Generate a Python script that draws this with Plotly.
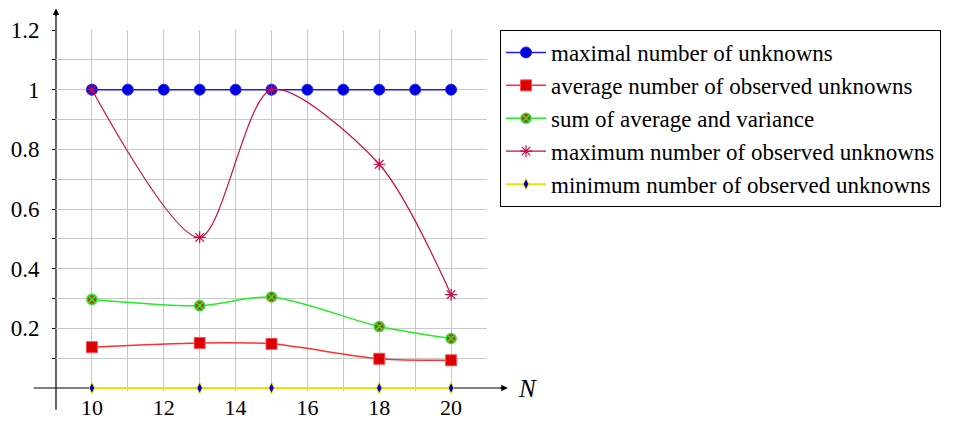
import plotly.graph_objects as go

# ---- data ----
N_all = [10, 11, 12, 13, 14, 15, 16, 17, 18, 19, 20]
max_unknowns = [1, 1, 1, 1, 1, 1, 1, 1, 1, 1, 1]
N_obs = [10, 13, 15, 18, 20]
avg_observed = [0.137, 0.151, 0.148, 0.098, 0.093]
avg_plus_var = [0.297, 0.276, 0.305, 0.206, 0.166]
max_observed = [1.0, 0.505, 1.0, 0.75, 0.313]
min_observed = [0, 0, 0, 0, 0]

x_tick_vals = [10, 12, 14, 16, 18, 20]
x_tick_text = ["10", "12", "14", "16", "18", "20"]
x_minor_vals = [11, 13, 15, 17, 19, 21]
y_tick_vals = [0.2, 0.4, 0.6, 0.8, 1.0, 1.2]
y_tick_text = ["0.2", "0.4", "0.6", "0.8", "1", "1.2"]
y_minor_vals = [0.1, 0.3, 0.5, 0.7, 0.9, 1.1]

names = [
    "maximal number of unknowns",
    "average number of observed unknowns",
    "sum of average and variance",
    "maximum number of observed unknowns",
    "minimum number of observed unknowns",
]

# ---- layout constants ----
W, H = 957, 421
ML, MR, MT, MB = 56, 470, 30, 30
XR = [9, 21]
YR = [-0.01, 1.2]
FONT = "Liberation Serif"

fig = go.Figure()

fig.add_trace(go.Scatter(
    x=N_all, y=max_unknowns, name=names[0], mode="lines+markers",
    line=dict(color="#1a1aff", width=1.5),
    marker=dict(symbol="circle", size=11, color="#0000dd", line=dict(color="#2222ff", width=1)),
    cliponaxis=False, legendgroup="a"))
fig.add_trace(go.Scatter(
    x=N_obs, y=avg_observed, name=names[1], mode="lines+markers",
    line=dict(color="#ff3030", width=1.5, shape="spline", smoothing=0.8),
    marker=dict(symbol="square", size=11, color="#dd0000", line=dict(color="#ff5050", width=1)),
    cliponaxis=False, legendgroup="b"))
fig.add_trace(go.Scatter(
    x=N_obs, y=avg_plus_var, name=names[2], mode="lines+markers",
    line=dict(color="#22ee22", width=1.5, shape="spline", smoothing=0.8),
    marker=dict(symbol="circle-x", size=10, color="#b04010", line=dict(color="#30e030", width=1.6)),
    cliponaxis=False, legendgroup="c"))
fig.add_trace(go.Scatter(
    x=N_obs, y=max_observed, name=names[3], mode="lines+markers",
    line=dict(color="#cc0a4a", width=1.2, shape="spline", smoothing=0.8),
    marker=dict(symbol="asterisk-open", size=10, color="#cc0a4a", line=dict(color="#cc0a4a", width=1.2)),
    cliponaxis=False, legendgroup="d"))
fig.add_trace(go.Scatter(
    x=N_obs, y=min_observed, name=names[4], mode="lines+markers",
    line=dict(color="#f0e000", width=1.8, shape="spline", smoothing=0.8),
    marker=dict(symbol="diamond-tall", size=8, color="#0000cc", line=dict(color="#f0e000", width=1)),
    cliponaxis=False, legendgroup="e"))

grid_col = "#c8c8c8"

fig.update_xaxes(
    range=XR, showline=False, zeroline=False, automargin=False,
    tickmode="array", tickvals=x_tick_vals, ticktext=x_tick_text,
    showgrid=True, gridcolor=grid_col, gridwidth=1,
    ticks="", ticklabelstandoff=1,
    minor=dict(tickvals=x_minor_vals, showgrid=True, gridcolor=grid_col, gridwidth=1, ticks=""),
    tickfont=dict(family=FONT, size=22, color="black"),
)
fig.update_yaxes(
    range=YR, showline=False, zeroline=False, automargin=False,
    tickmode="array", tickvals=y_tick_vals, ticktext=y_tick_text,
    showgrid=True, gridcolor=grid_col, gridwidth=1,
    ticks="outside", ticklen=3, tickcolor="black", ticklabelstandoff=8,
    minor=dict(tickvals=y_minor_vals, showgrid=True, gridcolor=grid_col, gridwidth=1,
               ticks="outside", ticklen=3, tickcolor="black"),
    tickfont=dict(family=FONT, size=23, color="black"),
)

# axis lines through the origin, with arrow tips
def px(x):
    return (x - XR[0]) / (XR[1] - XR[0])

def py(y):
    return (y - YR[0]) / (YR[1] - YR[0])

x_axis_from, x_axis_to = 8.38, 21.58
y_axis_from, y_axis_to = -0.073, 1.272

fig.add_shape(type="line", xref="paper", yref="paper", layer="below",
              x0=px(x_axis_from), x1=px(x_axis_to) - 0.005, y0=py(0), y1=py(0),
              line=dict(color="black", width=1.2))
fig.add_shape(type="line", xref="paper", yref="paper", layer="below",
              x0=px(9), x1=px(9), y0=py(y_axis_from), y1=py(y_axis_to) - 0.005,
              line=dict(color="black", width=1.2))
fig.add_annotation(xref="paper", yref="paper", x=px(x_axis_to), y=py(0),
                   ax=-9, ay=0, text="", showarrow=True, arrowhead=2, arrowsize=1.1,
                   arrowwidth=1.2, arrowcolor="black", standoff=0, startstandoff=0)
fig.add_annotation(xref="paper", yref="paper", x=px(9), y=py(y_axis_to),
                   ax=0, ay=9, text="", showarrow=True, arrowhead=2, arrowsize=1.1,
                   arrowwidth=1.2, arrowcolor="black", standoff=0, startstandoff=0)
fig.add_annotation(xref="paper", yref="paper", x=px(22.12), y=py(0),
                   text="<i>N</i>", showarrow=False, xanchor="center", yanchor="middle",
                   font=dict(family=FONT, size=25, color="black"))

fig.update_layout(
    width=W, height=H,
    margin=dict(l=ML, r=MR, t=MT, b=MB, pad=0, autoexpand=False),
    paper_bgcolor="white", plot_bgcolor="white",
    font=dict(family=FONT, color="black"),
    showlegend=True,
    legend=dict(x=(500 - ML) / (W - ML - MR), y=1.0, xanchor="left", yanchor="top",
                bordercolor="black", borderwidth=1, bgcolor="white",
                font=dict(family=FONT, size=23, color="black"),
                tracegroupgap=0, itemwidth=40, traceorder="normal"),
)

fig.write_html("out.html", config={"displayModeBar": False},
               post_script="document.body.style.margin='0px';document.body.style.overflow='hidden';")
